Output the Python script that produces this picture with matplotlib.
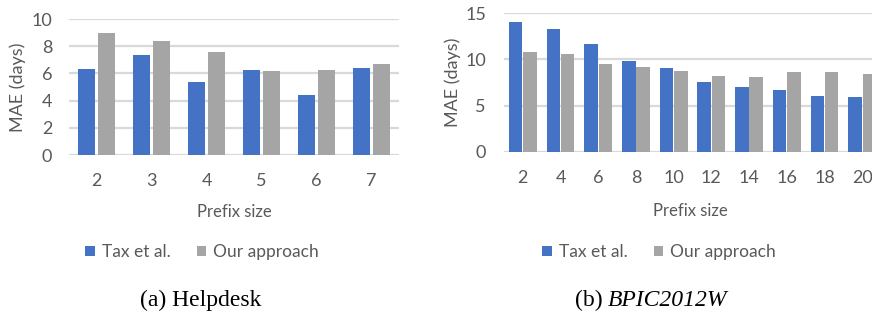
import matplotlib.pyplot as plt
import numpy as np

# Helpdesk
hd_prefix = ['2', '3', '4', '5', '6', '7']
hd_tax = [6.30, 7.33, 5.37, 6.23, 4.41, 6.40]
hd_ours = [8.95, 8.41, 7.55, 6.18, 6.27, 6.69]

# BPIC2012W
bp_prefix = ['2', '4', '6', '8', '10', '12', '14', '16', '18', '20']
bp_tax = [14.03, 13.25, 11.64, 9.77, 9.06, 7.52, 7.02, 6.70, 6.09, 5.94]
bp_ours = [10.78, 10.56, 9.49, 9.17, 8.78, 8.24, 8.09, 8.59, 8.63, 8.41]

blue = '#4472C4'
gray = '#A5A5A5'
txt = '#595959'
grid = '#D9D9D9'

plt.rcParams['font.family'] = ['Lato', 'DejaVu Sans']

fig = plt.figure(figsize=(8.72, 3.22), dpi=100)
ax1 = fig.add_axes([69 / 872, 1 - 155 / 322, 330 / 872, 136 / 322])
ax2 = fig.add_axes([504 / 872, 1 - 152 / 322, 377 / 872, 139 / 322])


def draw(ax, labels, tax, ours, ymax, step, width, off, ypad, xpad):
    x = np.arange(len(labels))
    ax.bar(x - off, tax, width, color=blue, label='Tax et al.', zorder=3)
    ax.bar(x + off, ours, width, color=gray, label='Our approach', zorder=3)
    ax.set_xlim(-0.5, len(labels) - 0.5)
    ax.set_ylim(0, ymax)
    ax.set_yticks(np.arange(0, ymax + 0.1, step))
    ax.set_xticks(x)
    ax.set_xticklabels(labels)
    ax.yaxis.grid(True, color=grid, linewidth=1.6, zorder=0)
    ax.set_axisbelow(True)
    for s in ax.spines.values():
        s.set_visible(False)
    ax.tick_params(axis='both', length=0, labelsize=13, colors=txt)
    ax.tick_params(axis='y', pad=ypad)
    ax.tick_params(axis='x', pad=xpad)
    ax.set_ylabel('MAE (days)', fontsize=13, color=txt)
    ax.set_xlabel('Prefix size', fontsize=12, color=txt)


draw(ax1, hd_prefix, hd_tax, hd_ours, 10, 2, 0.31, 0.18, 12, 13)
draw(ax2, bp_prefix, bp_tax, bp_ours, 15, 5, 0.36, 0.19, 13, 13)
ax1.yaxis.set_label_coords(-0.13, 0.5)
ax2.yaxis.set_label_coords(-0.115, 0.5)
ax1.xaxis.set_label_coords(165 / 330, -0.36)
ax2.xaxis.set_label_coords(186 / 377, -0.37)

for ax, cx in [(ax1, 202), (ax2, 659)]:
    ax.legend(loc='center', bbox_to_anchor=(cx / 872, 1 - 252 / 322),
              bbox_transform=fig.transFigure, ncol=2, frameon=False,
              fontsize=12.5, handlelength=0.55, handleheight=0.55,
              handletextpad=0.4, columnspacing=1.5, labelcolor=txt)

fig.text(201 / 872, 1 - 300 / 322, '(a) Helpdesk', ha='center', va='center',
         family='Liberation Serif', fontsize=17)
fig.text(603 / 872, 1 - 300 / 322, '(b)', ha='right', va='center',
         family='Liberation Serif', fontsize=17)
fig.text(608 / 872, 1 - 300 / 322, 'BPIC2012W', ha='left', va='center',
         family='Liberation Serif', style='italic', fontsize=17)

fig.savefig('out.png', dpi=100)
